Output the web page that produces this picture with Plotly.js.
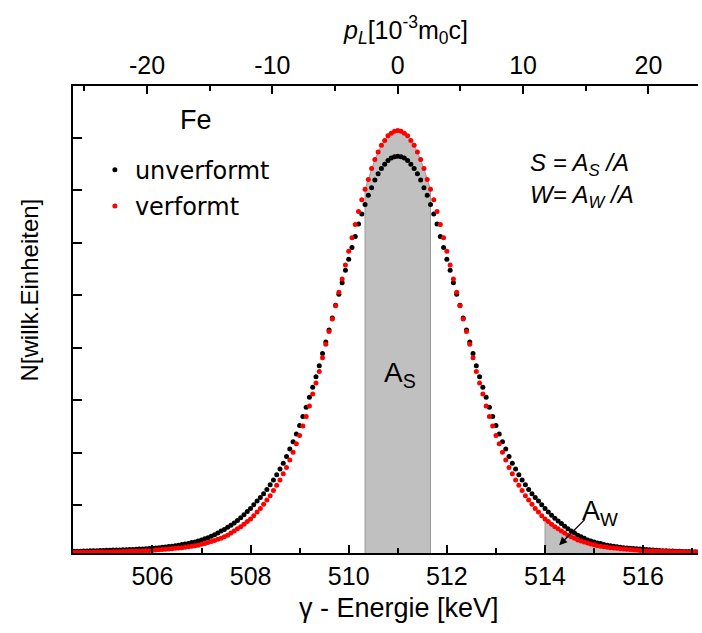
<!DOCTYPE html>
<html><head><meta charset="utf-8">
<script src="https://cdn.plot.ly/plotly-3.0.1.min.js"></script>
<style>html,body{margin:0;padding:0;background:#fff}#chart{width:702px;height:633px}</style>
</head><body><div id="chart"></div>
<script>
// Detector channel calibration (keV)
const channelStart = 504.397;
const channelWidth = 0.0667;

// N [arb. units], unverformt (black)
const countsUnverformt = [
0.031,0.033,0.035,0.037,0.039,0.041,0.043,0.045,0.047,0.049,
0.051,0.053,0.055,0.057,0.059,0.061,0.063,0.066,0.068,0.071,
0.074,0.077,0.08,0.085,0.09,0.095,0.10,0.11,0.115,0.125,
0.13,0.14,0.15,0.16,0.17,0.18,0.20,0.21,0.23,0.25,
0.27,0.29,0.32,0.35,0.38,0.42,0.45,0.49,0.53,0.57,
0.62,0.67,0.73,0.79,
0.85,0.92,0.99,1.06,1.13,1.21,1.30,1.39,1.49,1.60,
1.71,1.84,1.98,2.12,2.27,2.43,2.60,2.78,2.97,3.16,
3.36,3.57,3.80,4.02,4.25,4.48,4.72,4.93,5.15,5.39,
5.60,5.82,6.03,6.27,6.46,6.64,6.82,6.96,7.11,7.23,
7.33,7.41,7.48,7.53,7.55,
7.56,
7.55,7.53,7.48,7.41,7.33,7.23,7.11,6.96,6.82,
6.64,6.46,6.27,6.03,5.82,5.60,5.39,5.15,4.93,4.72,
4.48,4.25,4.02,3.80,3.57,3.36,3.16,2.97,2.78,2.60,
2.43,2.27,2.12,1.98,1.84,1.71,1.60,1.49,1.39,1.30,
1.21,1.13,1.06,0.99,0.92,0.85,0.78,0.72,0.66,0.61,
0.56,0.51,0.46,0.42,0.38,0.34,0.31,0.28,0.25,0.23,
0.21,0.19,0.18,0.16,0.15,0.14,0.13,0.12,0.11,0.10,
0.095,0.09,0.085,0.08,0.075,0.07,0.065,0.06,0.056,0.052,
0.048,0.045,0.042,0.039,0.036,0.034,0.032,0.030,0.028,0.027,
0.025,0.024,0.022
];

// N [arb. units], verformt (red)
const countsVerformt = [
0.011,0.012,0.012,0.013,0.014,0.015,0.016,0.017,0.018,0.019,
0.02,0.021,0.022,0.024,0.025,0.027,0.029,0.031,0.033,0.035,
0.037,0.04,0.042,0.045,0.05,0.055,0.06,0.065,0.07,0.075,
0.08,0.09,0.095,0.10,0.11,0.12,0.13,0.14,0.15,0.165,
0.18,0.20,0.22,0.24,0.26,0.28,0.31,0.34,0.38,0.42,
0.46,0.50,0.55,0.60,
0.65,0.71,0.78,0.85,0.93,1.01,1.09,1.19,1.29,1.39,
1.51,1.63,1.77,1.92,2.08,2.24,2.42,2.60,2.80,3.03,
3.24,3.46,3.72,3.98,4.22,4.46,4.71,4.97,5.22,5.49,
5.75,6.01,6.26,6.51,6.73,6.93,7.12,7.33,7.50,7.64,
7.77,7.86,7.95,8.00,8.04,
8.05,
8.04,8.00,7.95,7.86,7.77,7.64,7.50,7.33,7.12,
6.93,6.73,6.51,6.26,6.01,5.75,5.49,5.22,4.97,4.71,
4.46,4.22,3.98,3.72,3.46,3.24,3.03,2.80,2.60,2.42,
2.24,2.08,1.92,1.77,1.63,1.51,1.39,1.29,1.19,1.09,
1.01,0.93,0.85,0.78,0.71,0.65,0.60,0.55,0.50,0.46,
0.42,0.38,0.34,0.31,0.28,0.25,0.23,0.21,0.19,0.17,
0.155,0.14,0.13,0.12,0.11,0.10,0.095,0.09,0.08,0.075,
0.07,0.065,0.06,0.055,0.05,0.045,0.042,0.04,0.037,0.035,
0.033,0.031,0.029,0.027,0.025,0.024,0.022,0.021,0.02,0.019,
0.018,0.017,0.016
];

const seriesNames = ['unverformt', 'verformt'];
const sWindow = [510.333, 511.667];   // keV, S-parameter window
const wWindow = [514.0, 517.2];       // keV, W-parameter window
const energyRange = [504.38, 517.12];
const yRange = [0, 8.9];
const xMajorTicks = [506, 508, 510, 512, 514, 516];
const xMinorTicks = [507, 509, 511, 513, 515, 517];
const pTicks = [-20, -10, 0, 10, 20];
const pTickText = ['-20', '-10', '0', '10', '20'];
const pMinorTicks = [-25, -15, -5, 5, 15];
const E0 = 511.0;          // keV
const keVperP = 0.2555;    // keV per 10^-3 m0c

const energy = countsUnverformt.map((_, i) => +(channelStart + i * channelWidth).toFixed(4));

function band(win) {
  const xs = [], ys = [];
  energy.forEach((e, i) => {
    if (e >= win[0] - 1e-3 && e <= win[1] + 1e-3) { xs.push(e); ys.push(countsVerformt[i]); }
  });
  return { x: [xs[0], ...xs, xs[xs.length - 1]], y: [0, ...ys, 0] };
}
const sBand = band(sWindow), wBand = band(wWindow);

const FONT = 'Liberation Sans, Arial, sans-serif';
const pRange = energyRange.map(e => (e - E0) / keVperP);

const traces = [
  { x: sBand.x, y: sBand.y, mode: 'lines', fill: 'toself', fillcolor: '#c0c0c0',
    line: { color: '#9a9a9a', width: 1 }, showlegend: false, hoverinfo: 'skip' },
  { x: wBand.x, y: wBand.y, mode: 'lines', fill: 'toself', fillcolor: '#c0c0c0',
    line: { color: '#9a9a9a', width: 1 }, showlegend: false, hoverinfo: 'skip' },
  { x: energy, y: countsUnverformt, name: seriesNames[0], mode: 'markers',
    marker: { color: '#000000', size: 5 }, legendgroup: 'a' },
  { x: energy, y: countsVerformt, name: seriesNames[1], mode: 'markers',
    marker: { color: '#ff0000', size: 5 }, legendgroup: 'b' },
  { x: pRange, y: [0, 0], xaxis: 'x2', mode: 'markers', marker: { opacity: 0 },
    showlegend: false, hoverinfo: 'skip' }
];

const layout = {
  width: 702, height: 633,
  margin: { l: 73, r: 4, t: 86, b: 80 },
  paper_bgcolor: '#ffffff', plot_bgcolor: '#ffffff',
  font: { family: FONT, size: 25, color: '#000' },
  showlegend: true,
  legend: { x: 0.035, y: 0.868, xanchor: 'left', yanchor: 'top',
    font: { family: 'DejaVu Sans, sans-serif', size: 24, color: '#000' },
    bgcolor: 'rgba(0,0,0,0)', traceorder: 'grouped', tracegroupgap: 2 },
  xaxis: {
    range: energyRange, tickmode: 'array', tickvals: xMajorTicks, ticks: 'inside', ticklen: 8, tickwidth: 2,
    tickcolor: '#000', showline: true, linewidth: 2, linecolor: '#000',
    showgrid: false, zeroline: false, tickfont: { family: FONT, size: 25 },
    minor: { tickmode: 'array', tickvals: xMinorTicks, ticks: 'inside', ticklen: 5, tickwidth: 2, tickcolor: '#000', showgrid: false }
  },
  xaxis2: {
    overlaying: 'x', side: 'top', anchor: 'y', range: pRange,
    tickmode: 'array', tickvals: pTicks, ticktext: pTickText, ticks: 'inside', ticklen: 8, tickwidth: 2, tickcolor: '#000',
    showline: true, linewidth: 2, linecolor: '#000', showgrid: false, zeroline: false,
    tickfont: { family: FONT, size: 25 },
    minor: { tickmode: 'array', tickvals: pMinorTicks, ticks: 'inside', ticklen: 5, tickwidth: 2, tickcolor: '#000', showgrid: false }
  },
  yaxis: {
    range: yRange, dtick: 1, tick0: 0.91, ticks: 'inside', ticklen: 9, tickwidth: 2, tickcolor: '#000',
    showticklabels: false, showline: true, linewidth: 2, linecolor: '#000',
    showgrid: false, zeroline: false
  },
  annotations: [
    { text: 'γ - Energie [keV]', xref: 'paper', yref: 'paper', x: (398.5 - 73) / 625, y: (553 - 608) / 467,
      xanchor: 'center', yanchor: 'middle', showarrow: false, font: { family: FONT, size: 27 } },
    { text: '<i>p</i><sub><i>L</i></sub>[10<sup>-3</sup>m<sub>0</sub>c]', xref: 'paper', yref: 'paper',
      x: (405 - 73) / 625, y: (553 - 30) / 467, xanchor: 'center', yanchor: 'middle', showarrow: false,
      font: { family: FONT, size: 25 } },
    { text: 'N[willk.Einheiten]', xref: 'paper', yref: 'paper', x: (28.5 - 73) / 625, y: (553 - 290) / 467,
      xanchor: 'center', yanchor: 'middle', textangle: -90, showarrow: false, font: { family: FONT, size: 24 } },
    { text: 'Fe', xref: 'paper', yref: 'paper', x: (196 - 73) / 625, y: (553 - 120) / 467,
      xanchor: 'center', yanchor: 'middle', showarrow: false, font: { family: FONT, size: 27 } },
    { text: '<i>S = A<sub>S</sub> /A</i>', xref: 'paper', yref: 'paper', x: (528 - 73) / 625, y: (553 - 164) / 467,
      xanchor: 'left', yanchor: 'middle', showarrow: false, font: { family: FONT, size: 24 } },
    { text: '<i>W= A<sub>W</sub> /A</i>', xref: 'paper', yref: 'paper', x: (528 - 73) / 625, y: (553 - 196) / 467,
      xanchor: 'left', yanchor: 'middle', showarrow: false, font: { family: FONT, size: 24 } },
    { text: 'A<sub>S</sub>', xref: 'x', yref: 'y', x: 511.05, y: 3.4,
      xanchor: 'center', yanchor: 'middle', showarrow: false, font: { family: FONT, size: 28 } },
    { text: 'A<sub>W</sub>', xref: 'x', yref: 'y', x: 515.12, y: 0.77,
      xanchor: 'center', yanchor: 'middle', showarrow: false, font: { family: FONT, size: 27 } },
    { text: '', xref: 'x', yref: 'y', x: 514.29, y: 0.15, ax: 27, ay: -27,
      showarrow: true, arrowhead: 2, arrowsize: 1.2, arrowwidth: 1.3, arrowcolor: '#000' }
  ]
};

Plotly.newPlot('chart', traces, layout, { displayModeBar: false, staticPlot: true });
</script>
</body></html>
